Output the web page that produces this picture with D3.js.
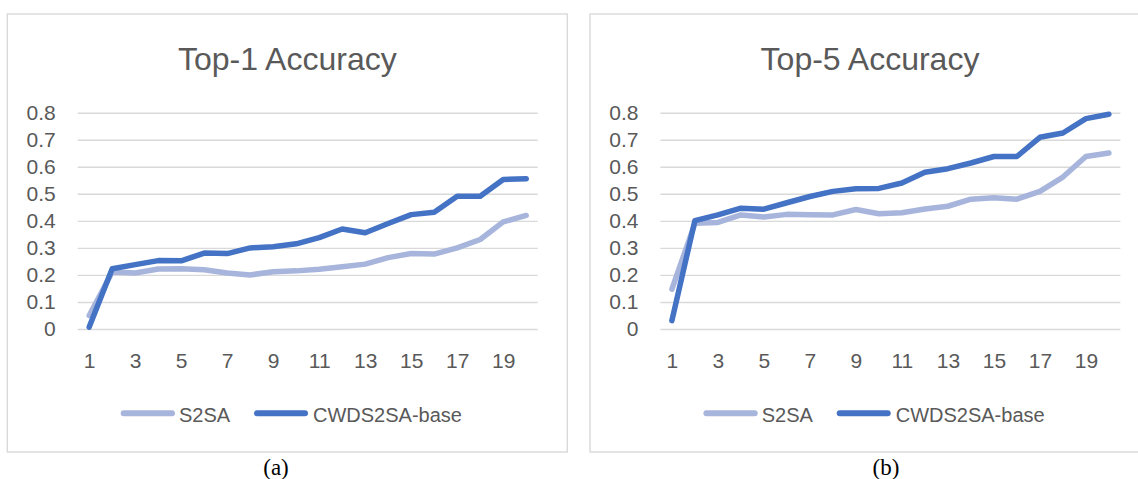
<!DOCTYPE html>
<html>
<head>
<meta charset="utf-8">
<script src="https://cdn.jsdelivr.net/npm/d3@7"></script>
<style>
  html, body { margin: 0; padding: 0; background: #fff; }
  svg { display: block; }
</style>
</head>
<body>
<div id="container"></div>
<script>
// --- data ---
var epochs = d3.range(1, 21);            // categories 1..20
var xTickValues = [1, 3, 5, 7, 9, 11, 13, 15, 17, 19];
var yTickValues = [0, 0.1, 0.2, 0.3, 0.4, 0.5, 0.6, 0.7, 0.8];
var yTickLabels = ["0", "0.1", "0.2", "0.3", "0.4", "0.5", "0.6", "0.7", "0.8"];
var seriesNames = ["S2SA", "CWDS2SA-base"];
var panelTitles = ["Top-1 Accuracy", "Top-5 Accuracy"];
var captions = ["(a)", "(b)"];

var top1S2SA = [0.05, 0.211, 0.207, 0.222, 0.223, 0.219, 0.207, 0.200, 0.212, 0.215,
                0.221, 0.230, 0.240, 0.264, 0.279, 0.277, 0.300, 0.331, 0.396, 0.420];
var top1CWD  = [0.007, 0.223, 0.238, 0.253, 0.252, 0.281, 0.279, 0.300, 0.304, 0.315,
                0.338, 0.370, 0.356, 0.390, 0.423, 0.432, 0.491, 0.491, 0.553, 0.556];
var top5S2SA = [0.147, 0.391, 0.394, 0.422, 0.414, 0.424, 0.423, 0.422, 0.442, 0.426,
                0.430, 0.444, 0.454, 0.480, 0.485, 0.480, 0.509, 0.562, 0.638, 0.651];
var top5CWD  = [0.031, 0.401, 0.422, 0.447, 0.443, 0.467, 0.490, 0.509, 0.519, 0.520,
                0.540, 0.580, 0.593, 0.614, 0.638, 0.638, 0.709, 0.725, 0.778, 0.794];

var colors = ["#A7B5DC", "#4472C4"];
var textGray = "#595959";
var gridGray = "#D9D9D9";
var sansFont = "'Liberation Sans', Arial, sans-serif";

// --- layout ---
var svgWidth = 1138, svgHeight = 479;
var svg = d3.select("div#container")
    .append("svg")
    .attr("width", svgWidth)
    .attr("height", svgHeight);

svg.append("rect")
    .attr("width", svgWidth)
    .attr("height", svgHeight)
    .attr("fill", "#fff");

var panelW = 560, panelTop = 14, panelH = 438;
var panels = [
    { left: 7.3, title: panelTitles[0], caption: captions[0], captionX: 276, data: [top1S2SA, top1CWD] },
    { left: 590, title: panelTitles[1], caption: captions[1], captionX: 886, data: [top5S2SA, top5CWD] }
];

panels.forEach(function (p) {
    var g = svg.append("g").attr("transform", "translate(" + p.left + ",0)");

    // chart border
    g.append("rect")
        .attr("x", 0)
        .attr("y", panelTop)
        .attr("width", panelW)
        .attr("height", panelH)
        .attr("fill", "none")
        .attr("stroke", gridGray)
        .attr("stroke-width", 1.4);

    // title
    g.append("text")
        .attr("x", panelW / 2)
        .attr("y", 70)
        .attr("text-anchor", "middle")
        .style("font-family", sansFont)
        .style("font-size", "32px")
        .attr("fill", textGray)
        .text(p.title);

    // scales
    var plotLeft = 70.4, plotRight = 530.4;
    var x = d3.scalePoint()
        .domain(epochs)
        .range([plotLeft, plotRight])
        .padding(0.5);
    var y = d3.scaleLinear()
        .domain([0, 0.8])
        .range([329, 112.7]);

    // y axis with gridlines
    var yAxis = g.append("g")
        .attr("transform", "translate(" + plotLeft + ",0)")
        .call(d3.axisLeft(y)
            .tickValues(yTickValues)
            .tickFormat(function (d, i) { return yTickLabels[i]; })
            .tickSize(-(plotRight - plotLeft))
            .tickPadding(22));
    yAxis.select(".domain").remove();
    yAxis.selectAll(".tick line")
        .attr("stroke", gridGray)
        .attr("stroke-width", 1.4);
    yAxis.selectAll(".tick text")
        .attr("fill", textGray)
        .style("font-family", sansFont)
        .style("font-size", "21px");

    // x axis labels
    var xAxis = g.append("g")
        .attr("transform", "translate(0," + y(0) + ")")
        .call(d3.axisBottom(x)
            .tickValues(xTickValues)
            .tickSize(0)
            .tickPadding(23.6));
    xAxis.select(".domain").remove();
    xAxis.selectAll(".tick text")
        .attr("fill", textGray)
        .style("font-family", sansFont)
        .style("font-size", "21px");

    // lines
    var line = d3.line()
        .x(function (d, i) { return x(epochs[i]); })
        .y(function (d) { return y(d); });

    p.data.forEach(function (values, s) {
        g.append("path")
            .datum(values)
            .attr("d", line)
            .attr("fill", "none")
            .attr("stroke", colors[s])
            .attr("stroke-width", 5.5)
            .attr("stroke-linejoin", "round")
            .attr("stroke-linecap", "round");
    });

    // legend
    var legendY = 413.3;
    var legendItems = [
        { x1: 116.4, x2: 164.7, tx: 171.7 },
        { x1: 249.7, x2: 297.7, tx: 305.7 }
    ];
    legendItems.forEach(function (item, s) {
        g.append("line")
            .attr("x1", item.x1)
            .attr("x2", item.x2)
            .attr("y1", legendY)
            .attr("y2", legendY)
            .attr("stroke", colors[s])
            .attr("stroke-width", 6)
            .attr("stroke-linecap", "round");
        g.append("text")
            .attr("x", item.tx)
            .attr("y", 421.7)
            .style("font-family", sansFont)
            .style("font-size", "20px")
            .attr("fill", textGray)
            .text(seriesNames[s]);
    });

    // caption under the chart
    svg.append("text")
        .attr("x", p.captionX)
        .attr("y", 475)
        .attr("text-anchor", "middle")
        .style("font-family", "'Liberation Serif', 'Times New Roman', serif")
        .style("font-size", "23px")
        .attr("fill", "#000")
        .text(p.caption);
});
</script>
</body>
</html>
